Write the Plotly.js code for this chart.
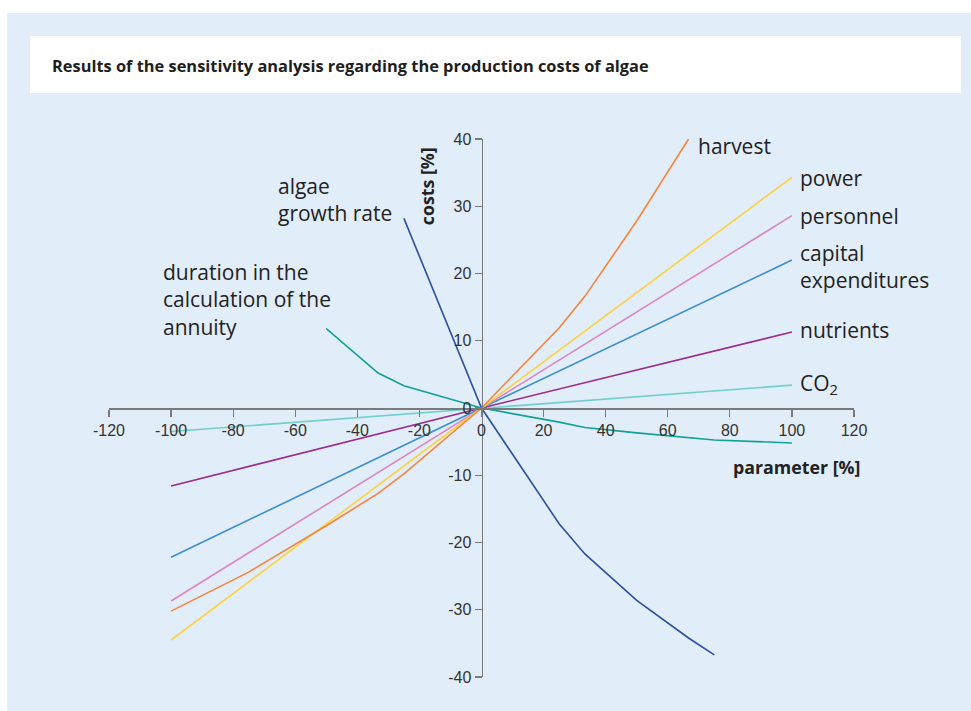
<!DOCTYPE html>
<html>
<head>
<meta charset="utf-8">
<script src="https://cdn.plot.ly/plotly-3.0.1.min.js"></script>
<style>
html, body { margin:0; padding:0; background:#ffffff; width:971px; height:711px; overflow:hidden; }
#chart { position:absolute; left:7px; top:13px; width:964px; height:698px; }
</style>
</head>
<body>
<div id="chart"></div>
<script>
// ---- data ----
const chartTitle = "Results of the sensitivity analysis regarding the production costs of algae";
const xTickVals = [-120, -100, -80, -60, -40, -20, 0, 20, 40, 60, 80, 100, 120];
const xTickText = ["-120", "-100", "-80", "-60", "-40", "-20", "0", "20", "40", "60", "80", "100", "120"];
const yTickVals = [-40, -30, -20, -10, 0, 10, 20, 30, 40];
const yTickText = ["-40", "-30", "-20", "-10", "0", "10", "20", "30", "40"];

const harvestX = [-100, -75, -50, -33.3, -25, 0, 25, 33.3, 50, 66.7];
const harvestY = [-30.2, -24.4, -17.5, -12.7, -9.8, 0, 11.9, 16.6, 27.8, 40];

const powerX = [-100, 0, 100];
const powerY = [-34.5, 0, 34.3];

const personnelX = [-100, 0, 100];
const personnelY = [-28.7, 0, 28.6];

const capitalX = [-100, 0, 100];
const capitalY = [-22.2, 0, 22.0];

const nutrientsX = [-100, 0, 100];
const nutrientsY = [-11.6, 0, 11.3];

const co2X = [-100, 0, 100];
const co2Y = [-3.5, 0, 3.4];

const algaeX = [-25, 0, 25, 33.3, 50, 66.7, 75];
const algaeY = [28.2, 0, -17.2, -21.7, -28.6, -34.2, -36.7];

const durationX = [-50, -33.3, -25, 0, 25, 33.3, 50, 75, 100];
const durationY = [11.8, 5.2, 3.3, 0, -2.1, -2.9, -3.7, -4.75, -5.2];

// series labels: [text, x, y]
const seriesLabels = [
  ["harvest", 69.4, 39.0],
  ["power", 102.2, 34.2],
  ["personnel", 102.2, 28.6],
  ["capital<br>expenditures", 102.2, 21.0],
  ["nutrients", 102.2, 11.6],
  ["CO<sub>2</sub>", 102.2, 3.6],
  ["algae<br>growth rate", -65.8, 31.0],
  ["duration in the<br>calculation of the<br>annuity", -102.8, 16.1]
];

const series = [
  {x: co2X, y: co2Y, color: "#6fcfcb"},
  {x: nutrientsX, y: nutrientsY, color: "#9c2a8c"},
  {x: capitalX, y: capitalY, color: "#3b8ed2"},
  {x: personnelX, y: personnelY, color: "#de84c2"},
  {x: powerX, y: powerY, color: "#fdd13f"},
  {x: harvestX, y: harvestY, color: "#f6843c"},
  {x: durationX, y: durationY, color: "#10a296"},
  {x: algaeX, y: algaeY, color: "#2b4fa3"}
];

const traces = series.map(s => ({
  x: s.x, y: s.y, type: "scatter", mode: "lines",
  line: {color: s.color, width: 1.6},
  hoverinfo: "skip", showlegend: false, cliponaxis: false
}));

const labelFont = {family: "Open Sans, DejaVu Sans, sans-serif", size: 21, color: "#222222"};
const annotations = seriesLabels.map(l => ({
  text: l[0], x: l[1], y: l[2], xref: "x", yref: "y",
  xanchor: "left", yanchor: "middle", align: "left", showarrow: false,
  borderpad: 0, font: labelFont
}));

annotations.push({
  text: "<b>costs [%]</b>", textangle: -90, x: -17.5, y: 33.0, xref: "x", yref: "y",
  xanchor: "center", yanchor: "middle", showarrow: false, borderpad: 0,
  font: {family: "Open Sans, sans-serif", size: 17.8, color: "#222222"}
});
annotations.push({
  text: "<b>parameter [%]</b>", x: 101.6, y: -8.8, xref: "x", yref: "y",
  xanchor: "center", yanchor: "middle", showarrow: false, borderpad: 0,
  font: {family: "Open Sans, sans-serif", size: 17.8, color: "#222222"}
});

const axisCommon = {
  showgrid: false, zeroline: false, showline: true,
  linecolor: "#7a7a7a", linewidth: 1.5,
  ticks: "outside", ticklen: 7, tickwidth: 1.3, tickcolor: "#7a7a7a",
  tickmode: "array",
  tickfont: {family: "Liberation Sans, Arial, sans-serif", size: 16, color: "#333333"},
  fixedrange: true
};

const layout = {
  width: 964, height: 698,
  margin: {l: 102, r: 117, t: 126, b: 34, pad: 0},
  paper_bgcolor: "#e1edf8",
  plot_bgcolor: "rgba(0,0,0,0)",
  showlegend: false,
  title: {
    text: "<b>" + chartTitle + "</b>",
    xref: "container", yref: "container",
    x: 45 / 964, xanchor: "left",
    y: 1 - 53 / 698, yanchor: "middle",
    font: {family: "Open Sans, sans-serif", size: 16.4, color: "#1e1e1e"}
  },
  xaxis: Object.assign({}, axisCommon, {
    range: [-120, 120], domain: [0, 1], tickvals: xTickVals, ticktext: xTickText,
    anchor: "free", position: 0.5, side: "bottom"
  }),
  yaxis: Object.assign({}, axisCommon, {
    range: [-40, 40], domain: [0, 1], tickvals: yTickVals, ticktext: yTickText,
    anchor: "free", position: 0.5, side: "left"
  }),
  shapes: [{
    type: "rect", xref: "paper", yref: "paper", layer: "below",
    x0: (23 - 102) / 745, x1: (954 - 102) / 745,
    y0: (664 - 80) / 538, y1: (664 - 23) / 538,
    fillcolor: "#ffffff", line: {width: 0}
  }],
  annotations: annotations
};

Plotly.newPlot("chart", traces, layout, {staticPlot: true, displayModeBar: false});
</script>
</body>
</html>
